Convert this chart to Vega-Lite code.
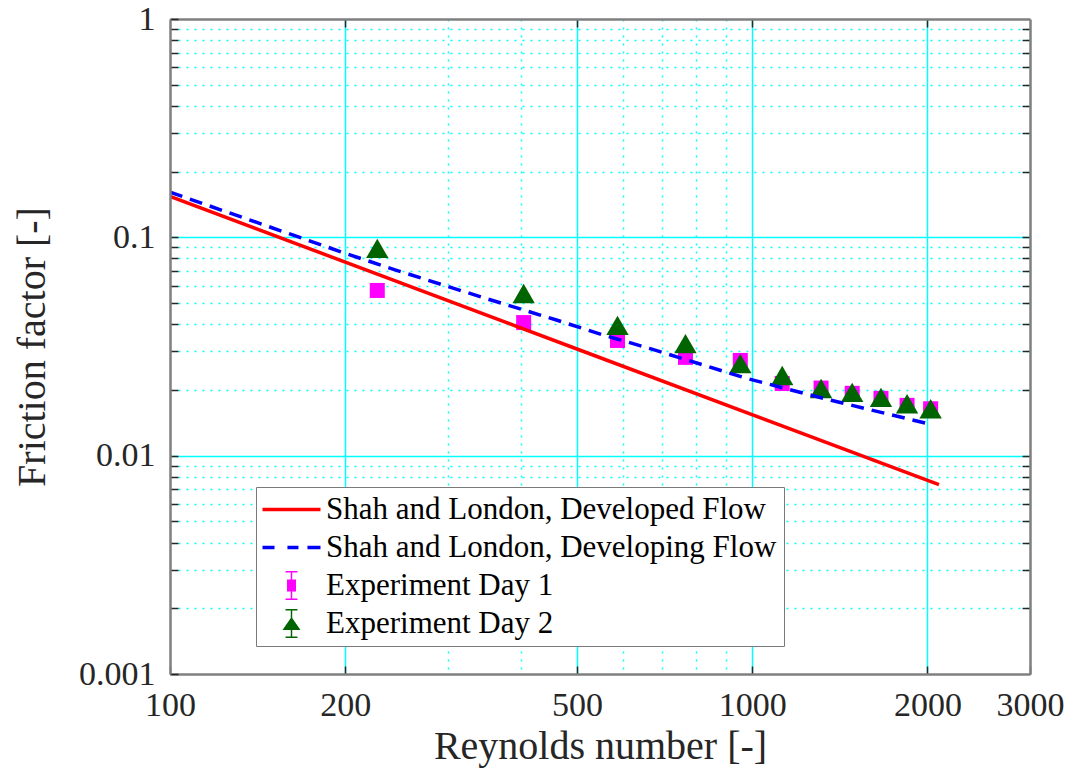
{
  "$schema": "https://vega.github.io/schema/vega-lite/v6.json",
  "width": 860,
  "height": 655,
  "autosize": {"type": "none"},
  "padding": {"left": 170, "top": 19, "right": 44, "bottom": 106},
  "background": "white",
  "config": {
    "view": {"stroke": null},
    "font": "Liberation Serif",
    "axis": {"labelColor": "#262626", "titleColor": "#262626", "titleFontWeight": "normal", "titleFont": "Liberation Serif", "labelFont": "Liberation Serif"},
    "legend": {"labelFont": "Liberation Serif"}
  },
  "datasets": {
    "developed": [
      {"Re": 100, "f": 0.154, "series": "Shah and London, Developed Flow"},
      {"Re": 500, "f": 0.0308, "series": "Shah and London, Developed Flow"},
      {"Re": 2093, "f": 0.00736, "series": "Shah and London, Developed Flow"}
    ],
    "developing": [
      {"Re": 100, "f": 0.161, "series": "Shah and London, Developing Flow"},
      {"Re": 200, "f": 0.0845, "series": "Shah and London, Developing Flow"},
      {"Re": 245, "f": 0.0706, "series": "Shah and London, Developing Flow"},
      {"Re": 344, "f": 0.0531, "series": "Shah and London, Developing Flow"},
      {"Re": 461, "f": 0.0418, "series": "Shah and London, Developing Flow"},
      {"Re": 553, "f": 0.0358, "series": "Shah and London, Developing Flow"},
      {"Re": 666, "f": 0.031, "series": "Shah and London, Developing Flow"},
      {"Re": 977, "f": 0.0226, "series": "Shah and London, Developing Flow"},
      {"Re": 1372, "f": 0.01788, "series": "Shah and London, Developing Flow"},
      {"Re": 2036, "f": 0.01387, "series": "Shah and London, Developing Flow"}
    ],
    "day1": [
      {"Re": 227, "f": 0.0571, "series": "Experiment Day 1"},
      {"Re": 405, "f": 0.0407, "series": "Experiment Day 1"},
      {"Re": 587, "f": 0.0337, "series": "Experiment Day 1"},
      {"Re": 768, "f": 0.0282, "series": "Experiment Day 1"},
      {"Re": 954, "f": 0.0273, "series": "Experiment Day 1"},
      {"Re": 1126, "f": 0.0214, "series": "Experiment Day 1"},
      {"Re": 1313, "f": 0.0204, "series": "Experiment Day 1"},
      {"Re": 1485, "f": 0.0193, "series": "Experiment Day 1"},
      {"Re": 1664, "f": 0.0183, "series": "Experiment Day 1"},
      {"Re": 1845, "f": 0.017, "series": "Experiment Day 1"},
      {"Re": 2025, "f": 0.0164, "series": "Experiment Day 1"}
    ],
    "day2": [
      {"Re": 227, "f": 0.089, "series": "Experiment Day 2"},
      {"Re": 405, "f": 0.0553, "series": "Experiment Day 2"},
      {"Re": 587, "f": 0.0395, "series": "Experiment Day 2"},
      {"Re": 768, "f": 0.0326, "series": "Experiment Day 2"},
      {"Re": 954, "f": 0.0264, "series": "Experiment Day 2"},
      {"Re": 1126, "f": 0.0233, "series": "Experiment Day 2"},
      {"Re": 1313, "f": 0.0203, "series": "Experiment Day 2"},
      {"Re": 1485, "f": 0.0195, "series": "Experiment Day 2"},
      {"Re": 1664, "f": 0.0185, "series": "Experiment Day 2"},
      {"Re": 1845, "f": 0.0173, "series": "Experiment Day 2"},
      {"Re": 2025, "f": 0.0164, "series": "Experiment Day 2"}
    ]
  },
  "layer": [
    {
      "data": {"name": "day1"},
      "mark": {"type": "point", "shape": "square", "filled": true, "size": 225, "opacity": 1},
      "encoding": {
        "x": {"field": "Re", "type": "quantitative", "scale": {"type": "log", "domain": [100, 3000], "nice": false, "zero": false},
          "axis": {"orient": "bottom", "values": [200, 300, 400, 500, 600, 700, 800, 900, 1000, 2000], "grid": true, "gridColor": "#00ffff",
            "gridWidth": 1.5,
            "gridDash": {"condition": {"test": "indexof([200,500,1000,2000], datum.value) >= 0", "value": []}, "value": [2, 6]},
            "ticks": false, "labels": false, "domain": false, "title": null}},
        "y": {"field": "f", "type": "quantitative", "scale": {"type": "log", "domain": [0.001, 1], "nice": false, "zero": false},
          "axis": {"orient": "left", "values": [0.002,0.003,0.004,0.005,0.006,0.007,0.008,0.009,0.01,0.02,0.03,0.04,0.05,0.06,0.07,0.08,0.09,0.1,0.2,0.3,0.4,0.5,0.6,0.7,0.8,0.9],
            "grid": true, "gridColor": "#00ffff", "gridWidth": 1.5,
            "gridDash": {"condition": {"test": "indexof([0.01,0.1], datum.value) >= 0", "value": []}, "value": [2, 6]},
            "ticks": false, "labels": false, "domain": false, "title": null}},
        "color": {"field": "series", "type": "nominal",
          "scale": {"domain": ["Shah and London, Developed Flow", "Shah and London, Developing Flow", "Experiment Day 1", "Experiment Day 2"], "range": ["#ff0000", "#0000ff", "#ff00ff", "#006400"]},
          "legend": {
            "title": null, "orient": "none", "legendX": 86, "legendY": 468,
            "labelFont": "Liberation Serif", "labelFontSize": 31, "labelColor": "#000000", "labelLimit": 1000,
            "fillColor": "white", "strokeColor": "#7a7a7a", "padding": 7, "rowPadding": 6,
            "symbolSize": 841, "symbolOffset": 13, "labelOffset": 19, "symbolStrokeWidth": 0, "symbolOpacity": 1
          }}
      }
    },
    {
      "data": {"name": "day2"},
      "mark": {"type": "point", "shape": "triangle-up", "filled": true, "size": 500, "opacity": 1},
      "encoding": {
        "x": {"field": "Re", "type": "quantitative", "scale": {"type": "log", "domain": [100, 3000], "nice": false, "zero": false}, "axis": null},
        "y": {"field": "f", "type": "quantitative", "scale": {"type": "log", "domain": [0.001, 1], "nice": false, "zero": false}, "axis": null},
        "color": {"field": "series", "type": "nominal"}
      }
    },
    {
      "data": {"name": "developed"},
      "mark": {"type": "line", "strokeWidth": 3.5, "clip": true},
      "encoding": {
        "x": {"field": "Re", "type": "quantitative", "scale": {"type": "log", "domain": [100, 3000], "nice": false, "zero": false},
          "axis": {"orient": "bottom", "values": [100, 200, 500, 1000, 2000, 3000], "format": "d", "grid": false,
            "tickSize": -8, "tickColor": "#262626", "tickWidth": 1.5, "domain": true, "domainColor": "#7f7f7f", "domainWidth": 2.5,
            "labelFont": "Liberation Serif",
            "labelFontSize": 34, "labelPadding": 22, "labelOverlap": false, "labelFlush": false, "labelBound": false,
            "title": "Reynolds number [-]", "titleFont": "Liberation Serif", "titleFontSize": 40, "titlePadding": 4, "zindex": 1}},
        "y": {"field": "f", "type": "quantitative", "scale": {"type": "log", "domain": [0.001, 1], "nice": false, "zero": false},
          "axis": {"orient": "left", "values": [0.001,0.002,0.003,0.004,0.005,0.006,0.007,0.008,0.009,0.01,0.02,0.03,0.04,0.05,0.06,0.07,0.08,0.09,0.1,0.2,0.3,0.4,0.5,0.6,0.7,0.8,0.9,1],
            "labelExpr": "indexof([0.001,0.01,0.1,1], datum.value) >= 0 ? format(datum.value, '~g') : ''",
            "labelFont": "Liberation Serif",
            "grid": false, "tickSize": -8, "tickColor": "#262626", "tickWidth": 1.5, "domain": true, "domainColor": "#7f7f7f", "domainWidth": 2.5,
            "labelFontSize": 34, "labelPadding": 23, "labelOverlap": false, "labelFlush": false, "labelBound": false,
            "title": "Friction factor [-]", "titleFont": "Liberation Serif", "titleFontSize": 40, "titlePadding": 26, "zindex": 1}},
        "color": {"field": "series", "type": "nominal"}
      }
    },
    {
      "data": {"name": "developing"},
      "mark": {"type": "line", "strokeWidth": 3.5, "strokeDash": [13, 8], "clip": true},
      "encoding": {
        "x": {"field": "Re", "type": "quantitative", "scale": {"type": "log", "domain": [100, 3000], "nice": false, "zero": false},
          "axis": {"orient": "top", "values": [200, 500, 1000, 2000], "grid": false, "labels": false,
            "tickSize": -8, "tickColor": "#262626", "tickWidth": 1.5, "domain": true, "domainColor": "#7f7f7f", "domainWidth": 2.5,
            "title": null, "zindex": 1}},
        "y": {"field": "f", "type": "quantitative", "scale": {"type": "log", "domain": [0.001, 1], "nice": false, "zero": false},
          "axis": {"orient": "right", "values": [0.002,0.003,0.004,0.005,0.006,0.007,0.008,0.009,0.01,0.02,0.03,0.04,0.05,0.06,0.07,0.08,0.09,0.1,0.2,0.3,0.4,0.5,0.6,0.7,0.8,0.9],
            "grid": false, "labels": false, "tickSize": -8, "tickColor": "#262626", "tickWidth": 1.5, "domain": true, "domainColor": "#7f7f7f", "domainWidth": 2.5,
            "title": null, "zindex": 1}},
        "color": {"field": "series", "type": "nominal"}
      }
    },
    {
      "data": {"name": "day1"},
      "mark": {"type": "point", "filled": true, "opacity": 0},
      "encoding": {
        "x": {"field": "Re", "type": "quantitative", "scale": {"type": "log", "domain": [100, 3000], "nice": false, "zero": false}, "axis": null},
        "y": {"field": "f", "type": "quantitative", "scale": {"type": "log", "domain": [0.001, 1], "nice": false, "zero": false}, "axis": null},
        "color": {"field": "series", "type": "nominal"},
        "shape": {"field": "series", "type": "nominal",
          "scale": {"domain": ["Shah and London, Developed Flow", "Shah and London, Developing Flow", "Experiment Day 1", "Experiment Day 2"],
            "range": [
              "M-2,-0.12H2V0.12H-2Z",
              "M-2,-0.12H-1.17V0.12H-2Z M-0.28,-0.12H0.48V0.12H-0.28Z M1.1,-0.12H2V0.12H1.1Z",
              "M-0.05,-1H0.05V1H-0.05Z M-0.41,-1H0.41V-0.9H-0.41Z M-0.41,0.9H0.41V1H-0.41Z M-0.31,-0.41H0.31V0.41H-0.31Z",
              "M-0.05,-1H0.05V1H-0.05Z M-0.41,-1H0.41V-0.9H-0.41Z M-0.41,0.9H0.41V1H-0.41Z M-0.62,0.45L0,-0.45L0.62,0.45Z"
            ]},
          "legend": {
            "title": null, "orient": "none", "legendX": 86, "legendY": 468,
            "labelFont": "Liberation Serif", "labelFontSize": 31, "labelColor": "#000000", "labelLimit": 1000,
            "fillColor": "white", "strokeColor": "#7a7a7a", "padding": 7, "rowPadding": 6,
            "symbolSize": 841, "symbolOffset": 13, "labelOffset": 19, "symbolStrokeWidth": 0, "symbolOpacity": 1
          }}
      }
    }
  ],
  "resolve": {"axis": {"x": "independent", "y": "independent"}}
}
